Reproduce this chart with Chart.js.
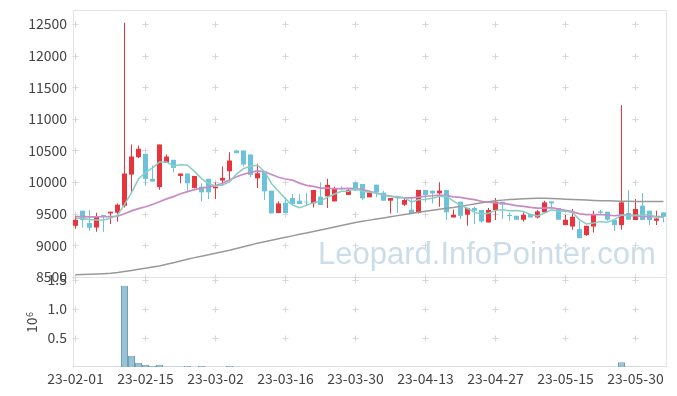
<!DOCTYPE html>
<html><head><meta charset="utf-8">
<script src="https://cdn.jsdelivr.net/npm/chart.js@4.4.1/dist/chart.umd.min.js"></script>
<style>html,body{margin:0;padding:0;background:#fff;}#wrap{width:677px;height:396px;}</style>
</head><body><div id="wrap"><canvas id="c" width="677" height="396"></canvas></div>
<script>
const dates = ["23-02-01","23-02-02","23-02-03","23-02-06","23-02-07","23-02-08","23-02-09","23-02-10","23-02-13","23-02-14",
"23-02-15","23-02-16","23-02-17","23-02-20","23-02-21","23-02-22","23-02-23","23-02-24","23-02-27","23-02-28",
"23-03-02","23-03-03","23-03-06","23-03-07","23-03-08","23-03-09","23-03-10","23-03-13","23-03-14","23-03-15",
"23-03-16","23-03-17","23-03-20","23-03-21","23-03-22","23-03-23","23-03-24","23-03-27","23-03-28","23-03-29",
"23-03-30","23-03-31","23-04-03","23-04-04","23-04-05","23-04-06","23-04-07","23-04-10","23-04-11","23-04-12",
"23-04-13","23-04-14","23-04-17","23-04-18","23-04-19","23-04-20","23-04-21","23-04-24","23-04-25","23-04-26",
"23-04-27","23-04-28","23-05-02","23-05-03","23-05-04","23-05-08","23-05-09","23-05-10","23-05-11","23-05-12",
"23-05-15","23-05-16","23-05-17","23-05-18","23-05-19","23-05-22","23-05-23","23-05-24","23-05-25","23-05-26",
"23-05-30","23-05-31","23-06-01","23-06-02","23-06-05"];
const tickIdx = [0,10,20,30,40,50,60,70,80];
const priceTicks = [8500,9000,9500,10000,10500,11000,11500,12000,12500];
const volTicks = [500000,1000000,1500000];

const opens = [9309,9548,9352,9282,9479,9505,9516,9627,10119,10394,
10447,10051,9920,10305,10352,10098,10135,9908,9928,10051,
9902,10024,10171,10500,10500,10436,10060,10167,9865,9511,
9674,9749,9706,9690,9663,9770,9775,9695,9905,9797,
9997,9971,9759,9960,9833,9706,9760,9643,9563,9511,
9876,9865,9822,9876,9441,9690,9484,9590,9559,9362,
9559,9690,9479,9468,9405,9495,9441,9521,9695,9590,
9320,9298,9257,9162,9298,9537,9532,9405,9320,9511,
9400,9627,9548,9389,9521];
const highs = [9468,9548,9559,9516,9479,9532,9663,12520,10595,10579,
10447,10262,10595,10436,10352,10135,10135,10098,9981,10051,
9997,10246,10473,10510,10500,10436,10289,10167,9865,9695,
9759,9813,9813,9830,9876,9997,10051,9928,9935,9908,
9997,9971,9865,9960,9865,9749,9770,9759,9770,9876,
9876,9865,9997,9876,9568,9690,9590,9611,9559,9590,
9749,9690,9521,9468,9521,9495,9559,9706,9695,9590,
9479,9575,9389,9309,9548,9560,9532,9405,11214,9876,
9733,9829,9548,9548,9521];
const lows = [9262,9282,9230,9214,9214,9336,9373,9600,9822,10378,
9944,10008,9880,10305,10155,9981,9838,9900,9695,9733,
9733,9944,9997,10457,10246,10076,9908,9717,9505,9511,
9511,9654,9654,9630,9600,9638,9590,9695,9870,9797,
9865,9720,9759,9759,9706,9505,9515,9622,9511,9505,
9680,9663,9611,9400,9441,9416,9309,9336,9357,9362,
9400,9416,9389,9405,9378,9441,9426,9521,9590,9405,
9320,9246,9114,9150,9203,9490,9389,9230,9246,9405,
9400,9400,9320,9320,9362];
const closes = [9405,9400,9278,9463,9463,9532,9643,10135,10404,10527,
10051,10008,10595,10404,10225,10135,9981,10098,9838,9838,
9928,10067,10341,10457,10278,10114,10140,9854,9505,9663,
9511,9654,9654,9680,9876,9638,9956,9908,9890,9876,
9865,9743,9833,9838,9706,9749,9745,9717,9511,9876,
9797,9822,9865,9521,9484,9468,9590,9548,9378,9559,
9690,9643,9463,9405,9484,9441,9537,9680,9663,9405,
9405,9452,9114,9309,9484,9516,9405,9320,9680,9405,
9575,9400,9400,9425,9452];
const volumes = [3000,4000,3000,5000,4000,3000,8000,1400000,195000,74000,
40000,22000,38000,9000,7000,8000,17000,6000,16000,5000,
4000,6000,17000,7000,5000,4000,3000,5000,6000,4000,
3000,3000,2000,3000,4000,3000,5000,4000,2000,3000,
3000,4000,3000,3000,4000,5000,3000,3000,4000,6000,
4000,3000,4000,5000,3000,4000,3000,3000,4000,3000,
5000,4000,3000,2000,3000,2000,3000,4000,3000,3000,
4000,5000,6000,4000,5000,3000,3000,4000,80000,9000,
7000,6000,4000,3000,4000];
const ma5 = [9430,9425,9410,9400,9402,9427,9476,9647,9835,10048,
10152,10225,10317,10317,10257,10273,10268,10169,10055,9978,
9937,9954,10002,10126,10214,10251,10266,10169,9978,9855,
9735,9637,9597,9632,9675,9700,9761,9812,9854,9854,
9899,9856,9841,9831,9797,9774,9774,9751,9686,9720,
9729,9745,9774,9776,9698,9632,9586,9522,9494,9509,
9553,9564,9547,9552,9537,9487,9466,9509,9561,9545,
9538,9521,9408,9337,9353,9375,9366,9407,9481,9465,
9477,9476,9492,9441,9450];
const ma20 = [9455,9455,9450,9450,9452,9455,9460,9500,9545,9580,
9610,9645,9690,9735,9770,9815,9850,9880,9905,9921,
9947,9981,10034,10084,10124,10153,10178,10164,10119,10076,
10049,10031,9984,9948,9931,9906,9905,9895,9898,9900,
9896,9880,9855,9824,9795,9777,9757,9750,9751,9761,
9776,9784,9795,9787,9767,9759,9740,9722,9697,9681,
9672,9667,9649,9627,9616,9600,9590,9588,9596,9572,
9553,9534,9497,9486,9486,9488,9479,9468,9483,9475,
9469,9457,9454,9455,9453];
const ma60 = [8535,8539,8543,8547,8552,8558,8570,8586,8604,8622,
8640,8657,8675,8700,8726,8752,8779,8806,8829,8852,
8876,8899,8923,8950,8977,9005,9035,9058,9081,9104,
9127,9150,9174,9197,9220,9243,9267,9290,9313,9338,
9363,9381,9399,9416,9434,9452,9470,9488,9505,9522,
9540,9555,9570,9585,9600,9618,9636,9654,9672,9690,
9706,9715,9723,9730,9737,9742,9745,9743,9740,9735,
9730,9726,9721,9716,9711,9706,9704,9702,9699,9697,
9695,9694,9693,9693,9692];
const watermark = "Leopard.InfoPointer.com";

const UP = '#e8343c', DOWN = '#6cc3d9';
const FONT = '"Noto Sans CJK KR", "Noto Sans", sans-serif';
const idx = closes.map((_, i) => i);
const isUp = i => closes[i] >= opens[i];
const candleColor = ctx => isUp(ctx.dataIndex) ? UP : DOWN;
const noPad = s => { s.paddingTop = 0; s.paddingBottom = 0; s.paddingLeft = 0; s.paddingRight = 0; };

const deco = {
  id: 'deco',
  beforeDatasetsDraw(chart) {
    const {ctx, chartArea: a, scales} = chart;
    const X = scales.x, Y = scales.y, V = scales.v;
    ctx.save();
    ctx.font = '31px "Liberation Sans", sans-serif';
    ctx.fillStyle = 'rgba(150,188,212,0.5)';
    ctx.textBaseline = 'alphabetic';
    ctx.textAlign = 'left';
    ctx.fillText(watermark, 318, 264);
    ctx.strokeStyle = '#e3e3e3';
    ctx.lineWidth = 1;
    ctx.strokeRect(a.left + 0.5, a.top + 0.5, a.right - a.left - 1, a.bottom - a.top - 1);
    const sep = Math.round(Y.bottom) + 0.5;
    ctx.beginPath(); ctx.moveTo(a.left, sep); ctx.lineTo(a.right, sep); ctx.stroke();
    ctx.strokeStyle = '#d6d6d6';
    const xs = tickIdx.map(i => Math.round(X.getPixelForValue(i)) + 0.5);
    const ys = priceTicks.map(v => Math.round(Y.getPixelForValue(v)) + 0.5)
      .concat(volTicks.map(v => Math.round(V.getPixelForValue(v)) + 0.5));
    ctx.beginPath();
    for (const x of xs) for (const y of ys) {
      ctx.moveTo(x - 3, y); ctx.lineTo(x + 3, y);
      ctx.moveTo(x, y - 3); ctx.lineTo(x, y + 3);
    }
    ctx.stroke();
    ctx.restore();
  },
  afterDraw(chart) {
    const {ctx} = chart;
    ctx.save();
    ctx.fillStyle = '#444';
    ctx.translate(37, 333);
    ctx.rotate(-Math.PI / 2);
    ctx.textBaseline = 'alphabetic';
    ctx.textAlign = 'left';
    ctx.font = '14px ' + FONT;
    ctx.fillText('10', 0, 0);
    const w = ctx.measureText('10').width;
    ctx.font = '9px ' + FONT;
    ctx.fillText('6', w + 0.5, -4);
    ctx.restore();
  }
};

new Chart(document.getElementById('c'), {
  data: {
    datasets: [
      {type: 'line', label: 'MA5', data: idx.map(i => ({x: i, y: ma5[i]})), yAxisID: 'y', borderColor: '#86cfc4', borderWidth: 1.5, pointRadius: 0, order: 0},
      {type: 'line', label: 'MA20', data: idx.map(i => ({x: i, y: ma20[i]})), yAxisID: 'y', borderColor: '#c98bc6', borderWidth: 1.7, pointRadius: 0, order: 0},
      {type: 'line', label: 'MA60', data: idx.map(i => ({x: i, y: ma60[i]})), yAxisID: 'y', borderColor: '#999999', borderWidth: 1.5, pointRadius: 0, order: 0},
      {type: 'bar', label: 'body', data: idx.map(i => ({x: i, y: [opens[i], closes[i]]})), yAxisID: 'y', backgroundColor: candleColor, borderWidth: 0, barThickness: 5, grouped: false, inflateAmount: 0, order: 1},
      {type: 'bar', label: 'wick', data: idx.map(i => ({x: i, y: [lows[i], highs[i]]})), yAxisID: 'y', backgroundColor: candleColor, borderWidth: 0, barThickness: 1, grouped: false, inflateAmount: 0, order: 2},
      {type: 'bar', label: 'volume', data: idx.map(i => ({x: i, y: volumes[i]})), yAxisID: 'v', backgroundColor: 'rgba(135,184,205,0.85)', borderColor: '#6d9fb8', borderWidth: 1, barThickness: 7, grouped: false, inflateAmount: 0, order: 3}
    ]
  },
  options: {
    responsive: false,
    animation: false,
    events: [],
    layout: {padding: {top: 10, right: 10, left: 0, bottom: 0}},
    plugins: {legend: {display: false}, tooltip: {enabled: false}},
    scales: {
      x: {
        type: 'linear', position: 'bottom', min: -0.357, max: 84.5, offset: false,
        afterBuildTicks: s => { s.ticks = tickIdx.map(v => ({value: v})); },
        afterFit: s => { s.height = 29; noPad(s); },
        ticks: {callback: v => dates[v], color: '#444', font: {family: FONT, size: 14}, padding: 3, maxRotation: 0, autoSkip: false},
        grid: {display: false, drawTicks: false}, border: {display: false}
      },
      v: {
        type: 'linear', position: 'left', stack: 'panes', stackWeight: 90, min: 0, max: 1550000, offset: false,
        afterBuildTicks: s => { s.ticks = volTicks.map(v => ({value: v})); },
        afterFit: s => { s.width = 73; noPad(s); },
        ticks: {callback: v => (v / 1e6).toFixed(1), color: '#444', font: {family: FONT, size: 14}, padding: 6, autoSkip: false},
        grid: {display: false, drawTicks: false}, border: {display: false}
      },
      y: {
        type: 'linear', position: 'left', stack: 'panes', stackWeight: 267, min: 8500, max: 12720, offset: false,
        afterBuildTicks: s => { s.ticks = priceTicks.map(v => ({value: v})); },
        afterFit: s => { s.width = 73; noPad(s); },
        ticks: {color: '#444', font: {family: FONT, size: 14}, padding: 6, autoSkip: false, callback: v => String(v)},
        grid: {display: false, drawTicks: false}, border: {display: false}
      }
    }
  },
  plugins: [deco]
});
</script>
</body></html>
